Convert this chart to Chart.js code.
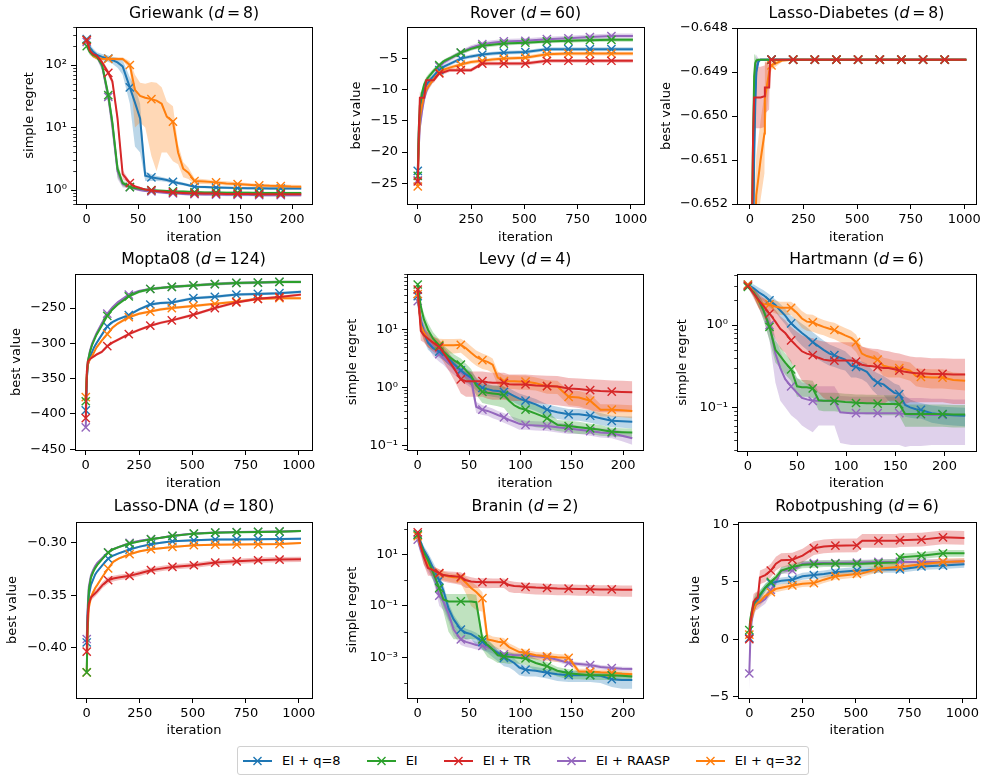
<!DOCTYPE html>
<html>
<head>
<meta charset="utf-8">
<script src="https://cdn.jsdelivr.net/npm/chart.js@4.4.0/dist/chart.umd.min.js"></script>
<style>
  body { margin: 0; background: #fff; width: 985px; height: 779px; position: relative; overflow: hidden; font-family: 'DejaVu Sans', sans-serif; }
  canvas { position: absolute; }
  #legend { position: absolute; left: 237px; top: 746px; height: 27px; border: 1px solid #d0d0d0; border-radius: 3px; display: flex; align-items: center; padding: 0 6px 0 5px; font-size: 13px; color: #000; background: #fff; }
  #legend .item { display: flex; align-items: center; margin-right: 26px; }
  #legend .item:last-child { margin-right: 0; }
  #legend svg { margin-right: 10px; }
</style>
</head>
<body>
<div id="legend"></div>
<script>
// series order: EI + q=8, EI, EI + TR, EI + RAASP, EI + q=32
const SERIES = ['EI + q=8', 'EI', 'EI + TR', 'EI + RAASP', 'EI + q=32'];

const SHORT_X = [0,3,6,10,15,21,25,30,35,42,47,52,57,63,68,73,78,84,89,94,99,105,115,126,136,147,157,168,178,189,199,209];
const LONG_X = [0,5,10,20,30,40,50,75,101,125,150,202,250,303,350,404,505,606,707,808,909,1010];
const DIAB_X = [0,10,15,20,25,30,40,50,68,70,90,95,101,150,202,303,404,505,606,707,808,909,1010];
const HART_X = [0,6,11,16,22,28,33,38,44,50,55,60,66,72,77,83,88,94,99,105,110,116,121,127,132,138,143,149,154,160,165,171,176,187,198,209,221];
const ROBOT_X = [0,5,10,20,30,40,50,75,101,125,150,202,250,303,350,404,505,530,606,690,707,808,909,1010];

const SHORT_MARKS = [0,21,42,63,84,105,126,147,168,189];
const LONG_MARKS = [0,101,202,303,404,505,606,707,808,909];
const HART_MARKS = [0,22,44,66,88,110,132,154,176,198];

const SHORT_XTICKS = [0,50,100,150,200];
const LONG_XTICKS = [0,250,500,750,1000];

const TITLES = ['Griewank','Rover','Lasso-Diabetes','Mopta08','Levy','Hartmann','Lasso-DNA','Branin','Robotpushing'];
const DIMS = [8,60,8,124,4,6,180,2,6];

// ---- Griewank ----
const GRIEWANK_MEAN = [
  [260,190,165,145,135,127,120,110,95,44,25,14,1.7,1.6,1.55,1.5,1.45,1.36,1.3,1.25,1.2,1.13,1.12,1.1,1.09,1.08,1.07,1.07,1.06,1.06,1.06,1.06],
  [200,160,145,135,100,33,12,2.2,1.3,1.12,1.08,1.05,1.02,1.0,0.99,0.98,0.97,0.96,0.95,0.95,0.94,0.93,0.92,0.92,0.91,0.91,0.91,0.9,0.9,0.9,0.9,0.9],
  [250,170,150,140,110,75,55,14,1.8,1.3,1.15,1.08,1.02,0.99,0.97,0.95,0.93,0.92,0.91,0.9,0.89,0.89,0.88,0.88,0.87,0.87,0.87,0.86,0.86,0.86,0.86,0.86],
  [235,165,145,135,95,31,11,2.0,1.25,1.12,1.05,1.0,0.97,0.95,0.93,0.92,0.9,0.89,0.88,0.87,0.86,0.86,0.85,0.85,0.84,0.84,0.84,0.83,0.83,0.83,0.83,0.83],
  [250,170,140,128,126,125,125,125,125,100,40,32,30,28.5,27,24,15,12.4,4,2.2,1.9,1.4,1.37,1.33,1.28,1.25,1.22,1.19,1.17,1.16,1.14,1.13]
];
const GRIEWANK_ERR = [
  [30,25,20,15,15,15,15,20,25,20,20,10,0.3,0.2,0.15,0.12,0.1,0.1,0.08,0.07,0.06,0.05,0.05,0.05,0.05,0.05,0.05,0.05,0.05,0.05,0.05,0.05],
  [20,15,12,10,15,8,4,0.6,0.15,0.06,0.05,0.05,0.04,0.04,0.04,0.04,0.04,0.04,0.04,0.04,0.04,0.04,0.04,0.04,0.04,0.04,0.04,0.04,0.04,0.04,0.04,0.04],
  [25,15,12,10,10,8,6,3,0.3,0.08,0.05,0.05,0.04,0.04,0.04,0.04,0.04,0.04,0.04,0.04,0.04,0.04,0.04,0.04,0.04,0.04,0.04,0.04,0.04,0.04,0.04,0.04],
  [25,15,12,10,15,8,4,0.5,0.15,0.06,0.05,0.05,0.04,0.04,0.04,0.04,0.04,0.04,0.04,0.04,0.04,0.04,0.04,0.04,0.04,0.04,0.04,0.04,0.04,0.04,0.04,0.04],
  [20,15,10,8,8,8,8,8,8,15,30,20,20,25,25,20,11,9.5,1.4,0.6,0.4,0.15,0.12,0.1,0.1,0.08,0.08,0.08,0.08,0.08,0.08,0.08]
];
const GRIEWANK_YTICKS = [1,10,100];
const GRIEWANK_YLABELS = ['10⁰','10¹','10²'];

// ---- Rover ----
const ROVER_MEAN = [
  [-23,-17,-14,-11.5,-10,-9.3,-8.8,-7.8,-6.9,-6.3,-5.9,-5.05,-4.7,-4.4,-4.25,-4.1,-4.0,-3.55,-3.55,-3.55,-3.55,-3.55],
  [-23.8,-16,-12.5,-10.5,-9.2,-8.5,-8,-7,-6.1,-5.4,-5,-4.1,-3.5,-3.0,-2.85,-2.65,-2.5,-2.3,-2.2,-2.1,-2.05,-2.05],
  [-24.7,-16.7,-11.3,-11.3,-11.3,-8.5,-8.5,-8.5,-7.4,-7.2,-6.9,-6.9,-6.9,-5.85,-5.85,-5.85,-5.85,-5.4,-5.4,-5.4,-5.4,-5.4],
  [-24.5,-19,-16,-13.5,-11.5,-10.3,-9.5,-8.2,-6.3,-5.6,-5.1,-4.1,-3.3,-2.75,-2.5,-2.3,-2.2,-1.95,-1.8,-1.6,-1.45,-1.45],
  [-25.5,-18,-14.5,-12.5,-11,-10,-9.5,-8.3,-7.3,-6.8,-6.5,-6.0,-5.6,-5.4,-5.2,-5.05,-4.9,-4.35,-4.25,-4.25,-4.25,-4.25]
];
const ROVER_ERR = [
  [1.0,1.2,1.0,0.7,0.6,0.5,0.5,0.4,0.35,0.3,0.3,0.3,0.3,0.3,0.3,0.3,0.3,0.3,0.3,0.3,0.3,0.3],
  [1.0,1.2,1.0,0.7,0.6,0.5,0.5,0.4,0.35,0.3,0.3,0.3,0.3,0.3,0.3,0.3,0.3,0.3,0.3,0.3,0.3,0.3],
  [0.8,1.5,1.0,0.6,0.6,0.5,0.5,0.4,0.35,0.3,0.3,0.3,0.3,0.3,0.3,0.3,0.3,0.3,0.3,0.3,0.3,0.3],
  [1.2,1.5,1.2,0.9,0.7,0.6,0.6,0.5,0.45,0.4,0.4,0.4,0.4,0.4,0.4,0.4,0.4,0.4,0.4,0.4,0.4,0.4],
  [1.0,1.2,1.0,0.7,0.6,0.5,0.5,0.4,0.35,0.3,0.3,0.3,0.3,0.3,0.3,0.3,0.3,0.3,0.3,0.3,0.3,0.3]
];
const ROVER_YTICKS = [-25,-20,-15,-10,-5];
const ROVER_YLABELS = ['−25','−20','−15','−10','−5'];

// ---- Lasso-Diabetes ----
const DIAB_MEAN = [
  [-0.66,-0.6545,-0.653,-0.651,-0.6498,-0.649,-0.64876,-0.64872,-0.64872,-0.64872,-0.64872,-0.64872,-0.64872,-0.64872,-0.64872,-0.64872,-0.64872,-0.64872,-0.64872,-0.64872,-0.64872,-0.64872,-0.64872],
  [-0.66,-0.6522,-0.6505,-0.6491,-0.6488,-0.64874,-0.64872,-0.64872,-0.64872,-0.64872,-0.64872,-0.64872,-0.64872,-0.64872,-0.64872,-0.64872,-0.64872,-0.64872,-0.64872,-0.64872,-0.64872,-0.64872,-0.64872],
  [-0.66,-0.6525,-0.6505,-0.64958,-0.64958,-0.64958,-0.64958,-0.64958,-0.64955,-0.64935,-0.64935,-0.64872,-0.64872,-0.64872,-0.64872,-0.64872,-0.64872,-0.64872,-0.64872,-0.64872,-0.64872,-0.64872,-0.64872],
  [-0.66,-0.654,-0.6525,-0.6505,-0.6495,-0.6489,-0.64875,-0.64872,-0.64872,-0.64872,-0.64872,-0.64872,-0.64872,-0.64872,-0.64872,-0.64872,-0.64872,-0.64872,-0.64872,-0.64872,-0.64872,-0.64872,-0.64872],
  [-0.67,-0.66,-0.656,-0.654,-0.6525,-0.6518,-0.6514,-0.651,-0.6504,-0.6496,-0.649,-0.6489,-0.64885,-0.64874,-0.64872,-0.64872,-0.64872,-0.64872,-0.64872,-0.64872,-0.64872,-0.64872,-0.64872]
];
const DIAB_ERR = [
  [0.003,0.002,0.0015,0.001,0.0006,0.0003,0.00005,0.00002,0.00002,0.00002,0.00002,0.00002,0.00002,0.00002,0.00002,0.00002,0.00002,0.00002,0.00002,0.00002,0.00002,0.00002,0.00002],
  [0.003,0.0015,0.001,0.0005,0.0002,0.00005,0.00002,0.00002,0.00002,0.00002,0.00002,0.00002,0.00002,0.00002,0.00002,0.00002,0.00002,0.00002,0.00002,0.00002,0.00002,0.00002,0.00002],
  [0.003,0.0015,0.001,0.0007,0.0007,0.0007,0.0007,0.0007,0.0007,0.0006,0.0005,0.00003,0.00002,0.00002,0.00002,0.00002,0.00002,0.00002,0.00002,0.00002,0.00002,0.00002,0.00002],
  [0.003,0.002,0.0015,0.001,0.0006,0.0003,0.00005,0.00002,0.00002,0.00002,0.00002,0.00002,0.00002,0.00002,0.00002,0.00002,0.00002,0.00002,0.00002,0.00002,0.00002,0.00002,0.00002],
  [0.003,0.003,0.002,0.0015,0.001,0.0009,0.0009,0.0009,0.0009,0.0008,0.0003,0.0002,0.0001,0.00003,0.00002,0.00002,0.00002,0.00002,0.00002,0.00002,0.00002,0.00002,0.00002]
];
const DIAB_YTICKS = [-0.652,-0.651,-0.65,-0.649,-0.648];
const DIAB_YLABELS = ['−0.652','−0.651','−0.650','−0.649','−0.648'];

// ---- Mopta08 ----
const MOPTA_MEAN = [
  [-395,-350,-330,-320,-312,-305,-300,-288,-276,-270,-266,-260,-252,-245,-243,-242,-236,-234,-231,-230,-229,-227],
  [-382,-345,-325,-312,-302,-295,-288,-275,-261,-252,-245,-233.5,-227,-223,-221.5,-220,-218,-216,-214.5,-214,-213,-213],
  [-406,-340,-326,-322,-320,-318,-316,-312,-304,-299,-295,-287,-281,-275,-271,-267.5,-259.5,-250,-242,-237,-234.5,-231],
  [-419,-350,-326,-310,-300,-293,-286,-272,-258,-249,-242,-231,-226,-223,-221.5,-220,-218,-216,-214.5,-214,-213,-213],
  [-376,-345,-330,-322,-318,-312,-306,-296,-287,-278,-272,-263,-258,-255,-252,-250,-247,-244,-241,-237,-236,-236]
];
const MOPTA_ERR = [
  [8,5,3,2.5,2,2,2,2,2,2,2,2,2,2,2,2,2,2,2,2,2,2],
  [8,5,3,2.5,2,2,2,2,2,2,2,2,2,2,2,2,2,2,2,2,2,2],
  [8,5,3,2.5,2,2,2,2,2,2,2,2,2,2,2,2,2,2,2,2,2,2],
  [18,6,3,2.5,2,2,2,2,2,2,2,2,2,2,2,2,2,2,2,2,2,2],
  [8,5,3,2.5,2,2,2,2,2,2,2,2,2,2,2,2,2,2,2,2,2,2]
];
const MOPTA_YTICKS = [-450,-400,-350,-300,-250];
const MOPTA_YLABELS = ['−450','−400','−350','−300','−250'];

// ---- Levy ----
const LEVY_MEAN = [
  [38,14,9,6,4.8,4.2,3.8,3.2,2.6,2.0,1.7,1.5,1.2,1.0,0.95,0.9,0.88,0.85,0.8,0.72,0.65,0.6,0.52,0.42,0.38,0.35,0.35,0.33,0.3,0.27,0.265,0.26],
  [60,25,15,10,7,5.3,4.2,3.5,3.0,2.5,2.0,1.6,1.1,0.85,0.82,0.8,0.78,0.75,0.6,0.5,0.45,0.42,0.36,0.3,0.23,0.22,0.21,0.2,0.19,0.175,0.172,0.17],
  [49,9.5,8,7,6,5,4,3,2.2,1.4,1.3,1.3,1.3,1.3,1.25,1.22,1.22,1.22,1.15,1.14,1.14,1.14,1.1,1.07,1.05,0.97,0.95,0.91,0.88,0.86,0.85,0.84],
  [31,15,10,7,5,3.8,3.3,2.7,2.3,1.9,1.6,1.4,0.47,0.42,0.4,0.37,0.34,0.31,0.28,0.26,0.24,0.23,0.225,0.22,0.21,0.2,0.19,0.18,0.17,0.165,0.15,0.135],
  [41,12,9,7,6,5.5,5.4,5.4,5.4,5.5,4.8,4.0,3.4,3.0,2.8,2.5,1.5,1.3,1.3,1.3,1.28,1.28,1.2,1.07,1.05,0.7,0.68,0.6,0.42,0.42,0.41,0.4]
];
const LEVY_ERR = [
  [10,4,2.5,1.5,1,0.9,0.8,0.7,0.6,0.5,0.45,0.4,0.3,0.25,0.22,0.2,0.2,0.2,0.18,0.16,0.15,0.14,0.12,0.1,0.09,0.08,0.08,0.08,0.07,0.06,0.06,0.06],
  [15,6,4,3,2,1.5,1.2,1,0.8,0.7,0.6,0.5,0.35,0.3,0.3,0.3,0.3,0.3,0.25,0.22,0.2,0.18,0.15,0.1,0.05,0.05,0.05,0.04,0.04,0.03,0.03,0.03],
  [15,3,2,2,1.8,1.5,1.2,1,0.8,0.6,0.6,0.6,0.6,0.6,0.6,0.6,0.6,0.6,0.55,0.55,0.55,0.55,0.55,0.55,0.55,0.5,0.5,0.5,0.5,0.48,0.47,0.46],
  [8,4,3,2,1.5,1,0.8,0.7,0.6,0.5,0.45,0.4,0.1,0.08,0.07,0.07,0.06,0.06,0.05,0.05,0.05,0.04,0.04,0.04,0.04,0.04,0.03,0.03,0.03,0.03,0.03,0.03],
  [10,3,2.5,2,1.5,1.5,1.5,1.5,1.5,1.5,1.4,1.2,1.0,0.9,0.8,0.7,0.4,0.35,0.35,0.35,0.35,0.35,0.3,0.28,0.27,0.2,0.2,0.18,0.1,0.1,0.1,0.1]
];
const LEVY_YTICKS = [0.1,1,10];
const LEVY_YLABELS = ['10⁻¹','10⁰','10¹'];

// ---- Hartmann ----
const HART_MEAN = [
  [3.1,2.8,2.5,2.3,2.0,1.75,1.5,1.3,1.05,0.9,0.8,0.72,0.62,0.55,0.5,0.45,0.43,0.4,0.38,0.32,0.31,0.29,0.27,0.22,0.2,0.19,0.17,0.15,0.145,0.107,0.1,0.095,0.093,0.085,0.082,0.08,0.079],
  [2.9,2.5,2.0,1.5,0.95,0.5,0.42,0.35,0.29,0.18,0.175,0.175,0.17,0.122,0.12,0.12,0.12,0.118,0.116,0.115,0.113,0.113,0.112,0.112,0.111,0.11,0.11,0.11,0.109,0.083,0.083,0.083,0.083,0.083,0.083,0.082,0.082],
  [3.0,2.4,2.0,1.7,1.38,1.1,0.9,0.8,0.65,0.55,0.48,0.45,0.43,0.4,0.38,0.37,0.37,0.37,0.37,0.37,0.36,0.33,0.32,0.315,0.31,0.3,0.3,0.29,0.28,0.27,0.265,0.26,0.26,0.255,0.255,0.25,0.25],
  [3.0,2.5,2.0,1.5,1.0,0.45,0.3,0.22,0.18,0.15,0.13,0.125,0.12,0.12,0.12,0.12,0.12,0.087,0.086,0.085,0.085,0.085,0.085,0.085,0.085,0.085,0.085,0.085,0.085,0.083,0.082,0.082,0.082,0.081,0.081,0.08,0.08],
  [3.1,2.5,1.9,1.8,1.78,1.68,1.62,1.62,1.62,1.4,1.2,1.1,1.08,1.0,0.95,0.9,0.87,0.8,0.75,0.7,0.62,0.45,0.42,0.4,0.38,0.32,0.31,0.3,0.3,0.29,0.28,0.24,0.235,0.23,0.23,0.215,0.21]
];
const HART_ERR = [
  [0.1,0.3,0.35,0.35,0.35,0.3,0.3,0.28,0.25,0.25,0.24,0.22,0.2,0.17,0.15,0.13,0.12,0.11,0.1,0.09,0.08,0.07,0.07,0.06,0.06,0.05,0.05,0.045,0.04,0.03,0.025,0.022,0.02,0.02,0.02,0.02,0.02],
  [0.1,0.3,0.35,0.35,0.3,0.15,0.12,0.1,0.08,0.045,0.04,0.04,0.04,0.03,0.03,0.03,0.03,0.03,0.03,0.03,0.03,0.03,0.03,0.03,0.03,0.03,0.03,0.03,0.03,0.025,0.025,0.025,0.025,0.025,0.025,0.025,0.025],
  [0.1,0.3,0.4,0.45,0.45,0.42,0.38,0.34,0.3,0.28,0.27,0.26,0.26,0.25,0.25,0.25,0.25,0.25,0.25,0.25,0.25,0.22,0.21,0.2,0.2,0.19,0.18,0.17,0.17,0.16,0.15,0.145,0.145,0.14,0.14,0.14,0.14],
  [0.1,0.3,0.35,0.35,0.35,0.25,0.18,0.12,0.1,0.08,0.07,0.07,0.07,0.06,0.06,0.06,0.06,0.05,0.05,0.05,0.05,0.05,0.05,0.05,0.05,0.05,0.05,0.05,0.05,0.05,0.048,0.048,0.048,0.046,0.046,0.045,0.045],
  [0.1,0.3,0.3,0.3,0.3,0.3,0.3,0.3,0.3,0.3,0.28,0.25,0.25,0.22,0.2,0.2,0.2,0.18,0.17,0.16,0.15,0.1,0.1,0.09,0.09,0.08,0.08,0.07,0.07,0.07,0.07,0.06,0.06,0.06,0.06,0.05,0.05]
];
const HART_YTICKS = [0.1,1];
const HART_YLABELS = ['10⁻¹','10⁰'];

// ---- Lasso-DNA ----
const DNA_MEAN = [
  [-0.395,-0.365,-0.35,-0.34,-0.335,-0.33,-0.327,-0.321,-0.315,-0.312,-0.31,-0.3063,-0.3035,-0.3013,-0.2998,-0.2984,-0.2975,-0.2968,-0.2966,-0.2964,-0.2962,-0.2959],
  [-0.4235,-0.37,-0.345,-0.333,-0.328,-0.324,-0.321,-0.315,-0.3092,-0.306,-0.304,-0.3006,-0.2985,-0.2965,-0.295,-0.2933,-0.2911,-0.2902,-0.2898,-0.2895,-0.2892,-0.2886],
  [-0.4038,-0.37,-0.358,-0.352,-0.35,-0.348,-0.346,-0.34,-0.3356,-0.334,-0.333,-0.3314,-0.329,-0.326,-0.3245,-0.3229,-0.3213,-0.3187,-0.3175,-0.3165,-0.3159,-0.3156],
  [-0.3917,-0.36,-0.342,-0.331,-0.326,-0.322,-0.319,-0.314,-0.309,-0.306,-0.304,-0.3,-0.298,-0.2963,-0.295,-0.2932,-0.291,-0.29,-0.2896,-0.2893,-0.289,-0.2885],
  [-0.4235,-0.38,-0.362,-0.352,-0.347,-0.343,-0.34,-0.332,-0.3244,-0.318,-0.315,-0.3108,-0.308,-0.306,-0.305,-0.3038,-0.3022,-0.3016,-0.3015,-0.3013,-0.3011,-0.3]
];
const DNA_ERR = [
  [0.012,0.005,0.003,0.002,0.0015,0.0012,0.001,0.001,0.001,0.001,0.001,0.001,0.001,0.001,0.001,0.001,0.001,0.001,0.001,0.001,0.001,0.001],
  [0.012,0.005,0.003,0.002,0.0015,0.0012,0.001,0.001,0.001,0.001,0.001,0.001,0.001,0.001,0.001,0.001,0.001,0.001,0.001,0.001,0.001,0.001],
  [0.01,0.006,0.004,0.003,0.003,0.003,0.003,0.003,0.003,0.0028,0.0026,0.0025,0.0025,0.0025,0.0025,0.0025,0.0025,0.0025,0.0025,0.0025,0.0025,0.0025],
  [0.012,0.005,0.003,0.002,0.0015,0.0012,0.001,0.001,0.001,0.001,0.001,0.001,0.001,0.001,0.001,0.001,0.001,0.001,0.001,0.001,0.001,0.001],
  [0.012,0.005,0.003,0.002,0.0015,0.0012,0.001,0.001,0.001,0.001,0.001,0.001,0.001,0.001,0.001,0.001,0.001,0.001,0.001,0.001,0.001,0.001]
];
const DNA_YTICKS = [-0.4,-0.35,-0.3];
const DNA_YLABELS = ['−0.40','−0.35','−0.30'];

// ---- Branin ----
const BRANIN_MEAN = [
  [60,30,15,8,3,1.0,0.4,0.08,0.03,0.012,0.009,0.008,0.006,0.004,0.003,0.002,0.0015,0.00095,0.0008,0.0006,0.0004,0.00033,0.0003,0.00025,0.00022,0.0002,0.0002,0.0002,0.00019,0.00014,0.00013,0.00013],
  [60,25,12,6,2,0.5,0.18,0.15,0.15,0.15,0.15,0.15,0.14,0.005,0.003,0.002,0.0012,0.0011,0.00105,0.001,0.00095,0.0009,0.0006,0.00045,0.0003,0.00024,0.00022,0.0002,0.0002,0.0002,0.00019,0.00018],
  [74,20,8,3,2.5,1.9,1.6,1.5,1.45,1.35,1.0,0.9,0.85,0.85,0.84,0.83,0.83,0.83,0.65,0.6,0.58,0.55,0.52,0.5,0.48,0.47,0.46,0.45,0.44,0.44,0.43,0.43],
  [38,15,8,4,2,0.25,0.15,0.05,0.012,0.005,0.004,0.0035,0.003,0.0028,0.0025,0.002,0.0015,0.0013,0.0013,0.0012,0.0012,0.0012,0.0011,0.001,0.0008,0.0006,0.00055,0.0005,0.00042,0.00038,0.00036,0.00035],
  [52,20,8,4,2.5,1.8,1.6,1.4,1.3,1.25,0.8,0.5,0.35,0.2,0.005,0.0045,0.004,0.0038,0.0025,0.002,0.0016,0.0015,0.0012,0.0011,0.001,0.00095,0.00028,0.00028,0.00026,0.00025,0.00023,0.00022]
];
const BRANIN_ERR = [
  [20,10,6,4,2,0.6,0.3,0.05,0.015,0.005,0.004,0.003,0.003,0.002,0.0015,0.001,0.0008,0.0005,0.0004,0.0003,0.0002,0.00015,0.00012,0.0001,0.0001,0.00009,0.00009,0.00009,0.00009,0.00007,0.00007,0.00007],
  [20,8,5,3,1,0.3,0.12,0.14,0.145,0.145,0.145,0.145,0.135,0.003,0.002,0.0012,0.0006,0.0005,0.0005,0.0004,0.0004,0.0004,0.0003,0.0002,0.00012,0.0001,0.00008,0.00007,0.00007,0.00007,0.00007,0.00006],
  [20,8,4,1.5,1,0.8,0.7,0.7,0.7,0.7,0.5,0.4,0.35,0.35,0.35,0.33,0.33,0.33,0.3,0.28,0.26,0.25,0.24,0.23,0.22,0.21,0.21,0.2,0.2,0.2,0.2,0.2],
  [10,6,4,2,1,0.15,0.08,0.025,0.005,0.002,0.0015,0.0012,0.001,0.0009,0.0008,0.0006,0.0004,0.0003,0.0003,0.0003,0.0003,0.0003,0.00025,0.0002,0.00015,0.00012,0.0001,0.0001,0.00008,0.00008,0.00007,0.00007],
  [15,8,4,1.5,1,0.8,0.6,0.5,0.5,0.5,0.5,0.4,0.28,0.14,0.003,0.002,0.002,0.0018,0.001,0.0008,0.0006,0.0005,0.0004,0.0004,0.00035,0.0003,0.00008,0.00008,0.00007,0.00007,0.00006,0.00006]
];
const BRANIN_YTICKS = [0.001,0.1,10];
const BRANIN_YLABELS = ['10⁻³','10⁻¹','10¹'];

// ---- Robotpushing ----
const ROBOT_MEAN = [
  [0.1,1.0,2.0,2.8,3.2,3.5,3.8,4.5,4.9,5.0,5.1,5.2,5.5,5.6,5.7,5.85,6.0,6.0,6.1,6.1,6.1,6.35,6.43,6.55],
  [0.8,1.8,2.3,3.0,3.5,3.7,3.9,4.5,5.0,5.4,6.0,6.3,6.5,6.55,6.6,6.6,6.6,6.6,6.65,6.7,7.15,7.3,7.5,7.5],
  [0.0,1.5,2.0,3.25,3.5,3.6,5.4,5.6,6.0,6.6,6.9,6.95,7.3,7.95,8.1,8.17,8.2,8.6,8.6,8.6,8.65,8.7,8.9,8.85],
  [-3.0,0.0,1.5,2.5,3.0,3.1,3.2,3.5,4.3,5.0,6.0,6.0,6.6,6.65,6.65,6.65,6.7,6.7,6.75,6.75,6.75,6.75,6.75,6.8],
  [0.4,1.2,1.8,2.5,3.0,3.2,3.3,3.8,4.1,4.4,4.5,4.7,4.85,4.9,5.2,5.5,5.7,5.75,6.15,6.3,6.3,6.55,6.75,6.8]
];
const ROBOT_ERR = [
  [0.6,0.6,0.6,0.5,0.5,0.45,0.4,0.35,0.3,0.3,0.3,0.3,0.3,0.3,0.3,0.3,0.3,0.3,0.3,0.3,0.3,0.3,0.3,0.3],
  [0.5,0.6,0.6,0.5,0.5,0.45,0.4,0.35,0.3,0.3,0.3,0.3,0.3,0.3,0.3,0.3,0.3,0.3,0.3,0.3,0.3,0.3,0.3,0.3],
  [0.5,0.7,0.8,0.7,0.6,0.6,0.6,0.6,0.6,0.6,0.6,0.6,0.6,0.6,0.6,0.6,0.6,0.6,0.6,0.6,0.6,0.6,0.6,0.6],
  [1.5,1.0,0.8,0.6,0.5,0.5,0.45,0.4,0.35,0.3,0.3,0.25,0.25,0.25,0.25,0.25,0.25,0.25,0.25,0.25,0.25,0.25,0.25,0.25],
  [0.5,0.6,0.6,0.5,0.5,0.45,0.4,0.35,0.3,0.3,0.3,0.3,0.3,0.3,0.3,0.3,0.3,0.3,0.3,0.3,0.3,0.3,0.3,0.3]
];
const ROBOT_YTICKS = [-5,0,5,10];
const ROBOT_YLABELS = ['−5','0','5','10'];

// ---- styling ----
const COLORS = ['#1f77b4', '#2ca02c', '#d62728', '#9467bd', '#ff7f0e'];
const BAND_COLORS = ['rgba(31,119,180,0.3)', 'rgba(44,160,44,0.3)', 'rgba(214,39,40,0.3)', 'rgba(148,103,189,0.3)', 'rgba(255,127,14,0.3)'];
const LAYER = [3, 1, 0, 4, 2];   // lower = drawn on top

// panel layout: box = plot area [left, top, right, bottom] in page px
const PANELS = [
  { x: SHORT_X, mean: GRIEWANK_MEAN, err: GRIEWANK_ERR, log: true, y: [0.6, 405], yt: GRIEWANK_YTICKS, yl: GRIEWANK_YLABELS,
    xr: [-10.45, 219.45], xt: SHORT_XTICKS, marks: SHORT_MARKS, ylab: 'simple regret', box: [76, 27, 312, 204], ytc: 30, ttc: 14, xtc: 237 },
  { x: LONG_X, mean: ROVER_MEAN, err: ROVER_ERR, log: false, y: [-28.3, 0], yt: ROVER_YTICKS, yl: ROVER_YLABELS,
    xr: [-50.5, 1062], xt: LONG_XTICKS, marks: LONG_MARKS, ylab: 'best value', box: [407, 27, 644, 204], ytc: 357, ttc: 14, xtc: 237 },
  { x: DIAB_X, mean: DIAB_MEAN, err: DIAB_ERR, log: false, y: [-0.652, -0.648], yt: DIAB_YTICKS, yl: DIAB_YLABELS,
    xr: [-60, 1055], xt: LONG_XTICKS, marks: LONG_MARKS, ylab: 'best value', box: [737, 28, 976, 204], ytc: 667, ttc: 14, xtc: 237 },
  { x: LONG_X, mean: MOPTA_MEAN, err: MOPTA_ERR, log: false, y: [-451, -201.8], yt: MOPTA_YTICKS, yl: MOPTA_YLABELS,
    xr: [-50.5, 1062], xt: LONG_XTICKS, marks: LONG_MARKS, ylab: 'best value', box: [75, 274, 312, 450], ytc: 17, ttc: 260, xtc: 483 },
  { x: SHORT_X, mean: LEVY_MEAN, err: LEVY_ERR, log: true, y: [0.085, 91], yt: LEVY_YTICKS, yl: LEVY_YLABELS,
    xr: [-10.45, 219.45], xt: SHORT_XTICKS, marks: SHORT_MARKS, ylab: 'simple regret', box: [407, 274, 643, 450], ytc: 353, ttc: 260, xtc: 483 },
  { x: HART_X, mean: HART_MEAN, err: HART_ERR, log: true, y: [0.0295, 4.17], yt: HART_YTICKS, yl: HART_YLABELS,
    xr: [-11.05, 232.05], xt: SHORT_XTICKS, marks: HART_MARKS, ylab: 'simple regret', box: [737, 274, 976, 451], ytc: 683, ttc: 260, xtc: 483 },
  { x: LONG_X, mean: DNA_MEAN, err: DNA_ERR, log: false, y: [-0.448, -0.28], yt: DNA_YTICKS, yl: DNA_YLABELS,
    xr: [-50.5, 1062], xt: LONG_XTICKS, marks: LONG_MARKS, ylab: 'best value', box: [76, 522, 312, 698], ytc: 13, ttc: 507, xtc: 730 },
  { x: SHORT_X, mean: BRANIN_MEAN, err: BRANIN_ERR, log: true, y: [2.6e-5, 186], yt: BRANIN_YTICKS, yl: BRANIN_YLABELS, skipDecades: true,
    xr: [-10.45, 219.45], xt: SHORT_XTICKS, marks: SHORT_MARKS, ylab: 'simple regret', box: [407, 522, 643, 698], ytc: 353, ttc: 507, xtc: 730 },
  { x: ROBOT_X, mean: ROBOT_MEAN, err: ROBOT_ERR, log: false, y: [-5.14, 10.24], yt: ROBOT_YTICKS, yl: ROBOT_YLABELS,
    xr: [-53, 1064], xt: LONG_XTICKS, marks: LONG_MARKS, ylab: 'best value', box: [738, 522, 976, 698], ytc: 696, ttc: 507, xtc: 730 }
];

Chart.defaults.font.family = "'DejaVu Sans', sans-serif";
Chart.defaults.color = '#000';

function makePanel(p, idx) {
  const left = Math.round(p.ytc - 8);
  const top = p.ttc - 14;
  const right = Math.min(p.box[2] + 12, 985);
  const bottom = Math.round(p.xtc + 8);
  const W = right - left, H = bottom - top;

  const cv = document.createElement('canvas');
  cv.width = W; cv.height = H;
  cv.style.left = left + 'px'; cv.style.top = top + 'px';
  document.body.appendChild(cv);

  const datasets = [];
  for (let k = 0; k < 5; k++) {
    const m = p.mean[k], e = p.err[k];
    const floor = p.log ? p.y[0] / 20 : -Infinity;
    datasets.push({
      data: p.x.map((x, i) => ({ x, y: m[i] + e[i] })),
      borderWidth: 0, pointRadius: 0, backgroundColor: BAND_COLORS[k],
      fill: '+1', order: 10 + LAYER[k]
    });
    datasets.push({
      data: p.x.map((x, i) => ({ x, y: Math.max(m[i] - e[i], floor) })),
      borderWidth: 0, pointRadius: 0, fill: false, order: 10 + LAYER[k]
    });
  }
  for (let k = 0; k < 5; k++) {
    datasets.push({
      label: SERIES[k],
      data: p.x.map((x, i) => ({ x, y: p.mean[k][i] })),
      borderColor: COLORS[k], backgroundColor: COLORS[k], borderWidth: 2,
      pointStyle: 'crossRot', pointBorderWidth: 1.4, pointBorderColor: COLORS[k],
      pointRadius: c => p.marks.includes(p.x[c.dataIndex]) ? 5.8 : 0,
      fill: false, tension: 0, order: LAYER[k]
    });
  }

  const decor = {
    id: 'decor' + idx,
    afterDraw(chart) {
      const ctx = chart.ctx, a = chart.chartArea;
      ctx.save();
      // minor ticks for log axes
      if (p.log) {
        const ys = chart.scales.y;
        ctx.strokeStyle = '#000'; ctx.lineWidth = 0.8;
        ctx.beginPath();
        const lo = Math.floor(Math.log10(p.y[0])), hi = Math.ceil(Math.log10(p.y[1]));
        for (let d = lo; d <= hi; d++) {
          const subs = p.skipDecades ? [1] : [2, 3, 4, 5, 6, 7, 8, 9];
          subs.forEach(s => {
            const v = s * Math.pow(10, d);
            if (v < p.y[0] || v > p.y[1] || p.yt.some(t => Math.abs(t - v) / v < 1e-6)) return;
            const yy = Math.round(ys.getPixelForValue(v)) + 0.5;
            ctx.moveTo(a.left, yy); ctx.lineTo(a.left - 2.8, yy);
          });
        }
        ctx.stroke();
      }
      // frame
      ctx.strokeStyle = '#000'; ctx.lineWidth = 1;
      ctx.strokeRect(Math.round(a.left) + 0.5, Math.round(a.top) + 0.5, Math.round(a.right - a.left), Math.round(a.bottom - a.top));
      // title: Name (d = N)
      const fs = 15.7, cx = (a.left + a.right) / 2, cy = p.ttc - top;
      const reg = fs + "px 'DejaVu Sans'", ita = 'italic ' + fs + "px 'DejaVu Sans'";
      const parts = [[TITLES[idx] + ' (', reg, 0], ['d', ita, 2.8], ['=', reg, 2.8], [DIMS[idx] + ')', reg, 0]];
      let total = 0;
      parts.forEach(pt => { ctx.font = pt[1]; pt.push(ctx.measureText(pt[0]).width); total += pt[3] + pt[2]; });
      let xx = cx - total / 2;
      ctx.fillStyle = '#000'; ctx.textBaseline = 'middle'; ctx.textAlign = 'left';
      parts.forEach(pt => { ctx.font = pt[1]; ctx.fillText(pt[0], xx, cy); xx += pt[3] + pt[2]; });
      ctx.restore();
    }
  };

  const tickFont = { size: 13, family: "'DejaVu Sans', sans-serif" };
  new Chart(cv, {
    type: 'line',
    data: { datasets },
    plugins: [decor],
    options: {
      responsive: false, animation: false, devicePixelRatio: 1, events: [],
      layout: { padding: { left: 0, top: p.box[1] - top, right: right - p.box[2], bottom: 0 } },
      plugins: { legend: { display: false }, tooltip: { enabled: false }, title: { display: false } },
      scales: {
        x: {
          type: 'linear', min: p.xr[0], max: p.xr[1], bounds: 'data',
          afterBuildTicks: s => { s.ticks = p.xt.map(v => ({ value: v })); },
          afterFit: s => { s.height = bottom - p.box[3]; },
          ticks: { autoSkip: false, maxRotation: 0, padding: 3, color: '#000', font: tickFont, callback: v => String(v) },
          grid: { drawOnChartArea: false, drawTicks: true, tickLength: 5, color: '#000', lineWidth: 1 },
          border: { display: false },
          title: { display: true, text: 'iteration', padding: 0, color: '#000', font: { size: 13 } }
        },
        y: {
          type: p.log ? 'logarithmic' : 'linear', min: p.y[0], max: p.y[1], bounds: 'data',
          afterBuildTicks: s => { s.ticks = p.yt.map(v => ({ value: v })); },
          afterFit: s => { s.width = p.box[0] - left; },
          ticks: { autoSkip: false, padding: 4, color: '#000', font: tickFont, callback: (v, i) => p.yl[i] },
          grid: { drawOnChartArea: false, drawTicks: true, tickLength: 5, color: '#000', lineWidth: 1 },
          border: { display: false },
          title: { display: true, text: p.ylab, padding: 0, color: '#000', font: { size: 13 } }
        }
      }
    }
  });
}

PANELS.forEach(makePanel);

// legend
const legend = document.getElementById('legend');
SERIES.forEach((name, k) => {
  const c = COLORS[k];
  const item = document.createElement('div');
  item.className = 'item';
  item.innerHTML = '<svg width="29" height="12"><line x1="0" y1="6" x2="29" y2="6" stroke="' + c + '" stroke-width="2"/>' +
    '<path d="M10.5 2 L18.5 10 M18.5 2 L10.5 10" stroke="' + c + '" stroke-width="1.4"/></svg><span>' + name + '</span>';
  legend.appendChild(item);
});
</script>
</body>
</html>
